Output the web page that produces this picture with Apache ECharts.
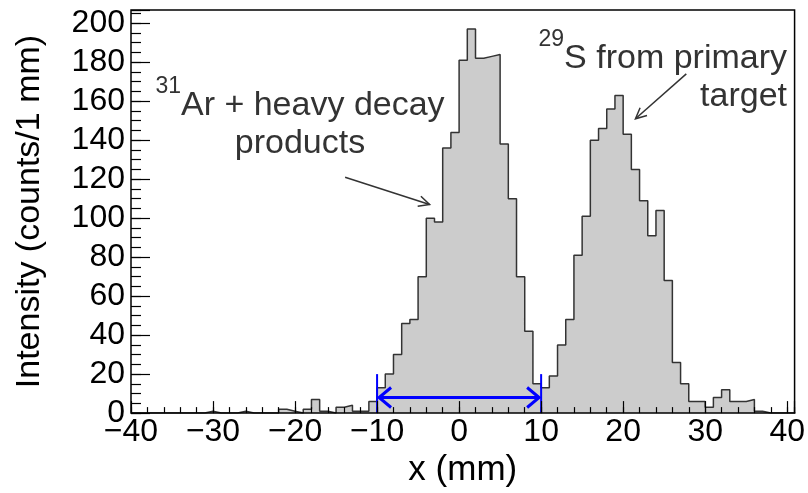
<!DOCTYPE html>
<html>
<head>
<meta charset="utf-8">
<script src="https://cdn.jsdelivr.net/npm/echarts@6/dist/echarts.min.js"></script>
<style>
html, body { margin: 0; padding: 0; background: #fff; }
#main { width: 808px; height: 493px; }
</style>
</head>
<body>
<div id="main"></div>
<script>
// histogram: 1 mm bins from -40 mm to 41 mm
var binStart = -40;
var counts = [
  0, 0, 0, 0, 0, 0, 0, 0, 0, 1,        // -40 .. -31
  0, 0, 0, 1, 0, 0, 0, 0, 2, 1,        // -30 .. -21
  0, 2, 7, 1, 0, 3, 4, 1, 1, 6,        // -20 .. -11
  13, 20, 30, 46, 48, 70, 100, 98, 136, 144,   // -10 .. -1
  181, 197, 182, 183, 184, 138, 110, 70, 42, 15, // 0 .. 9
  13, 19, 35, 48, 81, 101, 140, 146, 156, 163,   // 10 .. 19
  143, 125, 109, 91, 104, 68, 26, 15, 6, 6,      // 20 .. 29
  3, 8, 12, 6, 6, 7, 1, 0, 0, 0,                 // 30 .. 39
  0                                              // 40
];

// blue gate marker (-10 mm .. 10 mm)
var gateRange = [-10, 10];
var gateArrowLevel = 8;
var gateBarTop = 20;

// annotation arrows, in data coords (tail -> head)
var annotationArrows = [
  { from: [-13.9, 121], to: [-3.6, 107] },
  { from: [27.7, 174], to: [21.5, 151] }
];

var font = 'Liberation Sans, Arial, Helvetica, sans-serif';

var histData = counts.map(function (v, i) { return [binStart + i, v]; });
histData.push([binStart + counts.length, 0]);

var myChart = echarts.init(document.getElementById('main'));

var option = {
  animation: false,
  grid: {
    left: 131, right: 11, top: 10, bottom: 79,
    show: true, borderColor: '#000', borderWidth: 1.5,
    backgroundColor: 'transparent', z: 10
  },
  xAxis: [{
    type: 'value', min: -40, max: 40.9, interval: 10, z: 10,
    axisLine: { show: false, onZero: false },
    axisTick: { inside: true, length: 12, lineStyle: { color: '#000', width: 1.2 } },
    axisLabel: {
      fontSize: 32, color: '#000', fontFamily: font, margin: 3,
      formatter: function (v) { return v % 10 === 0 ? String(v).replace('-', '\u2212') : ''; }
    },
    splitLine: { show: false },
    name: 'x (mm)', nameLocation: 'middle', nameGap: 38,
    nameTextStyle: { fontSize: 35, color: '#000', fontFamily: font }
  }, {
    type: 'value', min: -40, max: 40.9, interval: 2, z: 10, position: 'bottom',
    axisLine: { show: false, onZero: false },
    axisTick: { inside: true, length: 6, lineStyle: { color: '#000', width: 1.2 } },
    axisLabel: { show: false },
    splitLine: { show: false }
  }],
  yAxis: [{
    type: 'value', min: 0, max: 206.8, interval: 20, z: 10, position: 'left',
    axisLine: { show: false, onZero: false },
    axisTick: { inside: true, length: 19, lineStyle: { color: '#000', width: 1.2 } },
    axisLabel: {
      fontSize: 32, color: '#000', fontFamily: font, margin: 6,
      formatter: function (v) { return v % 20 === 0 ? String(v) : ''; }
    },
    splitLine: { show: false },
    name: 'Intensity (counts/1 mm)', nameLocation: 'middle', nameGap: 84, nameRotate: 90,
    nameTextStyle: { fontSize: 34, color: '#000', fontFamily: font }
  }, {
    type: 'value', min: 0, max: 206.8, interval: 5, z: 10, position: 'left',
    axisLine: { show: false, onZero: false },
    axisTick: { inside: true, length: 10, lineStyle: { color: '#000', width: 1.2 } },
    axisLabel: { show: false },
    splitLine: { show: false }
  }],
  series: [{
    name: 'counts',
    type: 'line',
    step: 'end',
    data: histData,
    showSymbol: false,
    lineStyle: { color: '#333', width: 1.5 },
    areaStyle: { color: '#cccccc', opacity: 1 },
    z: 2
  }, {
    name: 'gate',
    type: 'custom',
    z: 5,
    data: [[gateRange[0], gateRange[1], gateArrowLevel, gateBarTop]],
    renderItem: function (params, api) {
      var l = api.coord([api.value(0), api.value(2)]);
      var r = api.coord([api.value(1), api.value(2)]);
      var lb = api.coord([api.value(0), 0]);
      var lt = api.coord([api.value(0), api.value(3)]);
      var rb = api.coord([api.value(1), 0]);
      var rt = api.coord([api.value(1), api.value(3)]);
      var st = { stroke: '#0000ff', lineWidth: 3, fill: null };
      var h = 14, w = 10;
      return {
        type: 'group',
        children: [
          { type: 'line', shape: { x1: lb[0], y1: lb[1], x2: lt[0], y2: lt[1] }, style: { stroke: '#0000ff', lineWidth: 2 } },
          { type: 'line', shape: { x1: rb[0], y1: rb[1], x2: rt[0], y2: rt[1] }, style: { stroke: '#0000ff', lineWidth: 2 } },
          { type: 'line', shape: { x1: l[0] + 2, y1: l[1], x2: r[0] - 2, y2: r[1] }, style: st },
          { type: 'polyline', shape: { points: [[l[0] + h, l[1] - w], [l[0] + 2, l[1]], [l[0] + h, l[1] + w]] }, style: st },
          { type: 'polyline', shape: { points: [[r[0] - h, r[1] - w], [r[0] - 2, r[1]], [r[0] - h, r[1] + w]] }, style: st }
        ]
      };
    }
  }]
};

myChart.setOption(option);

// annotations: text plus thin arrows pointing at the two peaks
var gfx = [];
annotationArrows.forEach(function (a) {
  var p = myChart.convertToPixel({ gridIndex: 0 }, a.from);
  var q = myChart.convertToPixel({ gridIndex: 0 }, a.to);
  var ang = Math.atan2(q[1] - p[1], q[0] - p[0]);
  var len = 12, spread = 0.45;
  gfx.push({ type: 'line', shape: { x1: p[0], y1: p[1], x2: q[0], y2: q[1] }, style: { stroke: '#333', lineWidth: 1.5 } });
  gfx.push({
    type: 'polyline',
    shape: { points: [
      [q[0] - len * Math.cos(ang - spread), q[1] - len * Math.sin(ang - spread)],
      [q[0], q[1]],
      [q[0] - len * Math.cos(ang + spread), q[1] - len * Math.sin(ang + spread)]
    ] },
    style: { stroke: '#333', lineWidth: 1.5, fill: null }
  });
});

// superscript lifted with bottom padding, both tokens bottom aligned
var rich = {
  s: { fontSize: 23, fontFamily: font, fill: '#333', verticalAlign: 'bottom', lineHeight: 22, padding: [0, 0, 25, 0] },
  m: { fontSize: 34, fontFamily: font, fill: '#333', verticalAlign: 'bottom', lineHeight: 38 }
};
gfx.push({
  type: 'text', x: 300, y: 85,
  style: { text: '{s|31}{m|Ar + heavy decay}\n{m|products}', align: 'center', verticalAlign: 'top', rich: rich }
});
gfx.push({
  type: 'text', x: 787, y: 38,
  style: { text: '{s|29}{m|S from primary}\n{m|target}', align: 'right', verticalAlign: 'top', rich: rich }
});

myChart.setOption({ graphic: gfx });
</script>
</body>
</html>
